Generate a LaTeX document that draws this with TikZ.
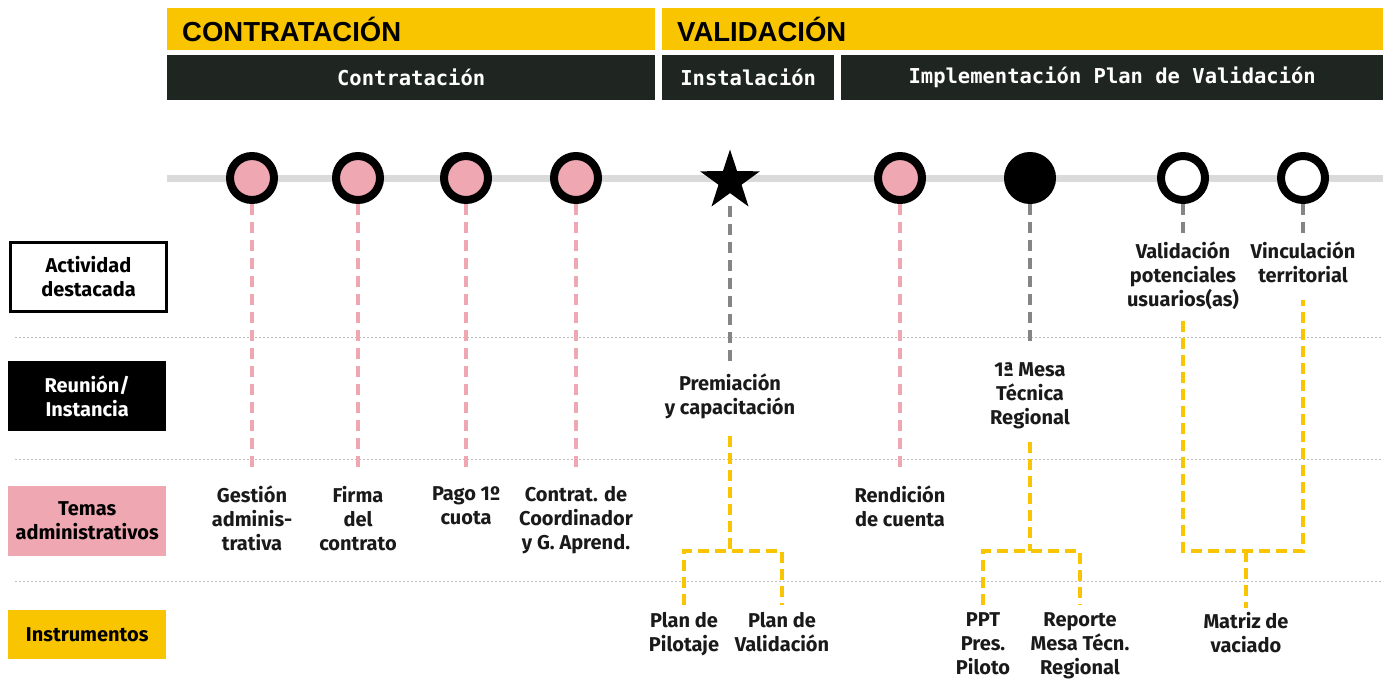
\documentclass[tikz,border=0pt]{standalone}
\usepackage{fontspec}
\setmainfont{Fira Sans}
\newfontfamily\mono{DejaVu Sans Mono}
\newfontfamily\titulo{Liberation Sans}
\usetikzlibrary{shapes.geometric}

\definecolor{amarillo}{HTML}{F8C500}
\definecolor{oscuro}{HTML}{1F2622}
\definecolor{rosa}{HTML}{EFA7B2}
\definecolor{eje}{HTML}{DADADA}
\definecolor{gris}{HTML}{858585}
\definecolor{punteo}{HTML}{BBBBBB}
\definecolor{texto}{HTML}{1A1A1A}

\begin{document}
\begin{tikzpicture}[x=1pt,y=-1pt]
  % some styles
  \tikzset{
    fase/.style={fill=amarillo, anchor=north west, minimum height=42pt,
      inner xsep=15pt, inner ysep=0pt, align=left,
      font=\titulo\bfseries\fontsize{27.5}{30}\selectfont, text=black},
    etapa/.style={fill=oscuro, anchor=north west, minimum height=45pt,
      inner sep=0pt, text=white, font=\mono\bfseries\fontsize{20.5}{24}\selectfont},
    hito/.style={circle, minimum size=44pt, inner sep=0pt, line width=8pt, draw=black},
    estrella/.style={star, star points=5, star point ratio=2.6,
      minimum size=63pt, inner sep=0pt, fill=black},
    fila/.style={anchor=north west, minimum width=158pt, inner sep=0pt, align=center,
      font=\bfseries\fontsize{20}{24}\selectfont},
    tag/.style={anchor=north, inner sep=0pt, align=center, text=texto,
      font=\bfseries\fontsize{20}{24}\selectfont},
    guion/.style={line width=3.5pt, dash pattern=on 11pt off 7pt},
    guionrosa/.style={guion, draw=rosa},
    guiongris/.style={guion, draw=gris},
    guionamarillo/.style={line width=4.5pt, dash pattern=on 11pt off 6pt, draw=amarillo},
    separador/.style={draw=punteo, line width=1pt, dash pattern=on 2pt off 2pt}
  }

\useasboundingbox (0,0) rectangle (1383,686);

% fases y etapas
\node[fase, text width=458pt] (fase1) at (167,8) {CONTRATACIÓN};
\node[fase, text width=691pt] (fase2) at (662,8) {VALIDACIÓN};
\node[etapa, minimum width=488pt] (etapa1) at (167,55) {Contratación};
\node[etapa, minimum width=172pt] (etapa2) at (662,55) {Instalación};
\node[etapa, minimum width=542pt] (etapa3) at (841,55) {Implementación Plan de Validación};

% filas
\foreach \y in {337,459,581}
  \draw[separador] (15,\y) -- (1383,\y);
\node[fila, draw=black, line width=3pt, fill=white, minimum width=156pt,
  minimum height=69pt] (actividad) at (9,240.5) {Actividad\\destacada};
\node[fila, fill=black, text=white, minimum height=70pt] (reunion) at (8,361) {Reunión/\\Instancia};
\node[fila, fill=rosa, minimum height=70pt] (temas) at (8,486) {Temas\\administrativos};
\node[fila, fill=amarillo, minimum height=49pt] (instrumentos) at (8,610) {Instrumentos};

% linea de tiempo
\draw[line width=7pt, eje] (167,178) -- (1383,178);
\foreach \n/\x/\c in {h1/252/rosa, h2/358/rosa, h3/466/rosa, h4/576/rosa,
    h6/900/rosa, h7/1030/black, h8/1183/white, h9/1303/white}
  \node[hito, fill=\c] (\n) at (\x,178) {};
\node[estrella] (h5) at (730,181) {};

% etiquetas
\node[tag] (gestion) at (252,486) {Gestión\\adminis-\\trativa};
\node[tag] (firma) at (358,486) {Firma\\del\\contrato};
\node[tag] (pago) at (466,486) {Pago 1º\\cuota};
\node[tag] (coord) at (576,486) {Contrat. de\\Coordinador\\y G. Aprend.};
\node[tag] (rendicion) at (900,486) {Rendición\\de cuenta};
\node[tag] (premio) at (730,374) {Premiación\\y capacitación};
\node[tag] (mesa) at (1030,362) {1ª Mesa\\Técnica\\Regional};
\node[tag] (validac) at (1183,242) {Validación\\potenciales\\usuarios(as)};
\node[tag] (vincul) at (1303,242) {Vinculación\\territorial};
\node[tag] (pilotaje) at (684,612) {Plan de\\Pilotaje};
\node[tag] (planval) at (782,612) {Plan de\\Validación};
\node[tag] (ppt) at (983,612) {PPT\\Pres.\\Piloto};
\node[tag] (reporte) at (1080,612) {Reporte\\Mesa Técn.\\Regional};
\node[tag] (matriz) at (1246,612) {Matriz de\\vaciado};

% conectores
\foreach \h/\t in {h1/gestion, h2/firma, h3/pago, h4/coord, h6/rendicion}
  \draw[guionrosa, shorten >=13pt] (\h) -- (\t);
\draw[guiongris, shorten <=13pt, shorten >=12pt] (h5) -- (premio);
\draw[guiongris, shorten >=17pt] (h7) -- (mesa);
\draw[guiongris, shorten >=7pt] (h8) -- (validac);
\draw[guiongris, shorten >=7pt] (h9) -- (vincul);

\coordinate (u1) at (730,551);
\coordinate (u2) at (1030,551);
\coordinate (u3) at (1246,551);
\draw[guionamarillo, shorten <=16pt] (premio) -- (u1);
\draw[guionamarillo, shorten <=7pt, shorten >=7pt] (pilotaje) |- (u1) -| (planval);
\draw[guionamarillo, shorten <=13pt] (mesa) -- (u2);
\draw[guionamarillo, shorten <=7pt, shorten >=7pt] (ppt) |- (u2) -| (reporte);
\draw[guionamarillo, shorten <=11pt, shorten >=17pt] (validac) |- (u3) -| (vincul);
\draw[guionamarillo, shorten >=4pt] (u3) -- (matriz);

\end{tikzpicture}
\end{document}
